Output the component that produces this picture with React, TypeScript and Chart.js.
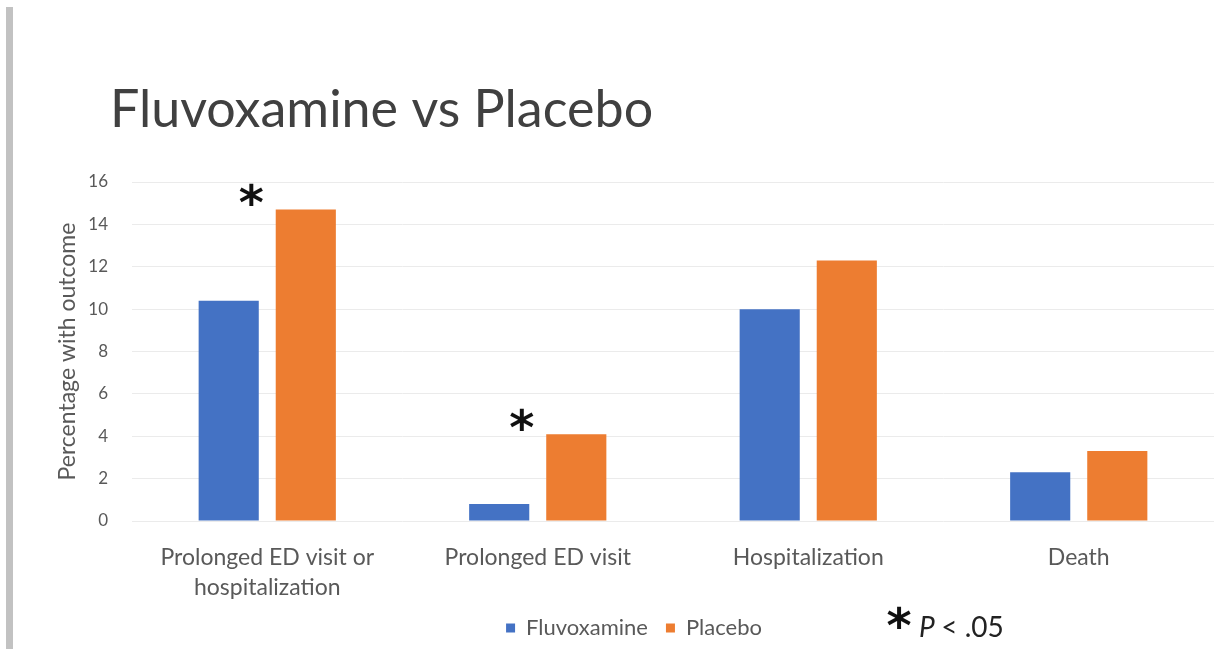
import { useEffect, useRef } from 'react';
import { Chart, registerables } from 'chart.js';

Chart.register(...registerables);

// Outcome categories (multi-line labels as arrays)
const categories: (string | string[])[] = [
  ['Prolonged ED visit or', 'hospitalization'],
  'Prolonged ED visit',
  'Hospitalization',
  'Death',
];

// Percentage of patients with each outcome
const fluvoxamineValues = [10.4, 0.8, 10.0, 2.3];
const placeboValues = [14.7, 4.1, 12.3, 3.3];

// Outcomes with a statistically significant difference (P < .05)
const significant = [true, true, false, false];

const seriesNames = ['Fluvoxamine', 'Placebo'];
const yMin = 0;
const yMax = 16;
const yStep = 2;

const titleText = 'Fluvoxamine vs Placebo';
const yAxisTitle = 'Percentage with outcome';
const noteText = 'P < .05';

const BLUE = '#4472C4';
const ORANGE = '#ED7D31';
const TEXT_GRAY = '#595959';
const FONT = 'Lato, "Open Sans", "DejaVu Sans", sans-serif';
const STAR_FONT = '"DejaVu Sans", sans-serif';

// Draws an asterisk glyph centred (visually) on x, y
function drawAsterisk(ctx: CanvasRenderingContext2D, x: number, y: number, size: number) {
  ctx.save();
  ctx.font = `bold ${size}px ${STAR_FONT}`;
  ctx.fillStyle = '#111111';
  ctx.textAlign = 'left';
  ctx.textBaseline = 'alphabetic';
  const m = ctx.measureText('*');
  const dx = (m.actualBoundingBoxRight - m.actualBoundingBoxLeft) / 2 + m.actualBoundingBoxLeft;
  const dy = (m.actualBoundingBoxAscent - m.actualBoundingBoxDescent) / 2;
  ctx.fillText('*', x - dx, y + dy);
  ctx.restore();
}

const decorations = {
  id: 'decorations',
  afterDatasetsDraw(chart: any) {
    const ctx: CanvasRenderingContext2D = chart.ctx;
    const xScale = chart.scales.x;
    const placeboMeta = chart.getDatasetMeta(1);

    // Significance markers above the placebo bars
    significant.forEach((sig, i) => {
      if (!sig) return;
      const bar = placeboMeta.data[i];
      const cx = xScale.getPixelForValue(i) - 16;
      drawAsterisk(ctx, cx, bar.y - 15, 48);
    });

    // Chart heading
    ctx.save();
    ctx.font = `400 52px ${FONT}`;
    ctx.fillStyle = '#404040';
    ctx.textAlign = 'left';
    ctx.textBaseline = 'alphabetic';
    ctx.fillText(titleText, 110, 127);
    ctx.restore();

    // Significance note next to the legend
    drawAsterisk(ctx, 899, 617, 48);
    ctx.save();
    ctx.fillStyle = '#222222';
    ctx.textBaseline = 'alphabetic';
    ctx.textAlign = 'left';
    ctx.font = `italic 28px ${FONT}`;
    ctx.fillText('P', 919, 637);
    const pw = ctx.measureText('P ').width;
    ctx.font = `28px ${FONT}`;
    ctx.fillText(noteText.slice(2), 919 + pw, 637);
    ctx.restore();
  },
};

export default function App() {
  const canvasRef = useRef<HTMLCanvasElement | null>(null);

  useEffect(() => {
    const canvas = canvasRef.current;
    if (!canvas) return;
    const chart = new Chart(canvas, {
      type: 'bar',
      data: {
        labels: categories,
        datasets: [
          {
            label: seriesNames[0],
            data: fluvoxamineValues,
            backgroundColor: BLUE,
            categoryPercentage: 0.57,
            barPercentage: 0.78,
          },
          {
            label: seriesNames[1],
            data: placeboValues,
            backgroundColor: ORANGE,
            categoryPercentage: 0.57,
            barPercentage: 0.78,
          },
        ],
      },
      options: {
        animation: false,
        responsive: false,
        maintainAspectRatio: false,
        layout: { padding: { left: 54, right: 3, top: 182, bottom: 0 } },
        plugins: {
          title: { display: false },
          tooltip: { enabled: false },
          legend: {
            display: true,
            position: 'bottom',
            labels: {
              boxWidth: 9,
              boxHeight: 9,
              padding: 18,
              color: TEXT_GRAY,
              font: { family: FONT, size: 22 },
            },
          },
        },
        scales: {
          x: {
            grid: { display: false, drawTicks: false },
            border: { display: false },
            ticks: {
              color: TEXT_GRAY,
              padding: 22,
              maxRotation: 0,
              autoSkip: false,
              font: { family: FONT, size: 23, lineHeight: 1.3 },
            },
            afterFit: (s: any) => {
              s.height = 78;
            },
          },
          y: {
            min: yMin,
            max: yMax,
            ticks: {
              stepSize: yStep,
              color: TEXT_GRAY,
              padding: 24,
              font: { family: FONT, size: 17 },
            },
            grid: { color: '#ebebeb', lineWidth: 1, drawTicks: false },
            border: { display: false },
            title: {
              display: true,
              text: yAxisTitle,
              color: TEXT_GRAY,
              font: { family: FONT, size: 23 },
              padding: { top: 0, bottom: 0 },
            },
            afterFit: (s: any) => {
              s.width = 78;
            },
          },
        },
      },
      plugins: [decorations],
    });
    return () => chart.destroy();
  }, []);

  return (
    <div style={{ position: 'fixed', left: 0, top: 0, width: 1217, height: 649, background: '#ffffff' }}>
      <div style={{ position: 'absolute', left: 6, top: 7, width: 7, height: 642, background: '#c2c2c2' }} />
      <canvas ref={canvasRef} width={1217} height={649} style={{ position: 'absolute', left: 0, top: 0 }} />
    </div>
  );
}
